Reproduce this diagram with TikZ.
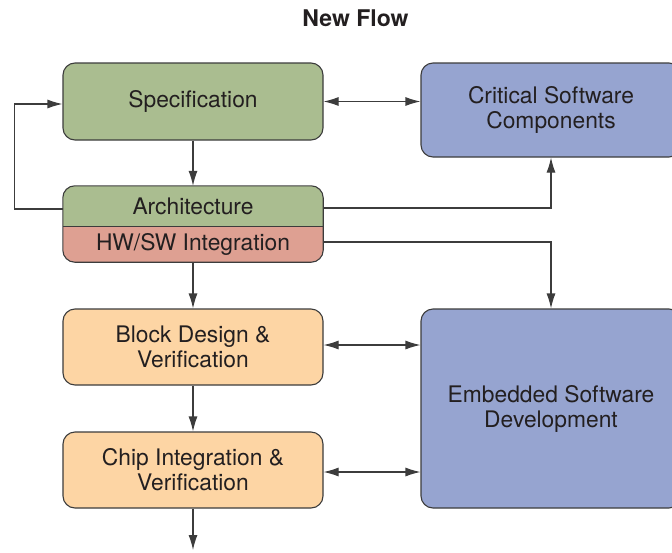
\documentclass[tikz,border=0pt]{standalone}
\usepackage{fontspec}
\setmainfont{TeX Gyre Heros}
\usetikzlibrary{arrows.meta,backgrounds,calc}
\definecolor{specgreen}{RGB}{170,189,144}
\definecolor{hwpink}{RGB}{222,160,146}
\definecolor{peach}{RGB}{253,213,164}
\definecolor{swblue}{RGB}{150,164,208}
\definecolor{edge}{RGB}{60,60,60}
\definecolor{ink}{RGB}{35,31,32}
\tikzset{
  box/.style={draw=edge, line width=1.1pt, rounded corners=12pt, minimum width=260pt,
    align=center, text=ink, font=\fontsize{22.8}{25}\selectfont, inner sep=0pt},
  plain/.style={minimum width=260pt, inner sep=0pt, align=center, text=ink,
    font=\fontsize{22.8}{25}\selectfont},
  arr/.style={draw=edge, line width=1.1pt, -{Latex[length=15pt,width=9pt]}},
  dbl/.style={draw=edge, line width=1.1pt, {Latex[length=15pt,width=9pt]}-{Latex[length=15pt,width=9pt]}}
}
\begin{document}
\begin{tikzpicture}[x=1pt,y=-1pt]
\useasboundingbox (0,0) rectangle (672,552);
\clip (0,0) rectangle (672,552);

% title
\node[font=\bfseries\fontsize{23}{25}\selectfont, text=ink] (title) at (355.5,18) {New Flow};

% left column
\node[box, fill=specgreen, minimum height=77pt] (spec) at (193,101.5) {Specification};
\node[plain, minimum height=40pt] (arch) at (193,206) {Architecture};
\node[plain, minimum height=36pt] (hwsw) at (193,244) {HW/SW Integration};
\node[box, fill=peach, minimum height=76pt] (block) at (193,347) {Block Design \&\\Verification};
\node[box, fill=peach, minimum height=76pt] (chip) at (193,470) {Chip Integration \&\\Verification};

% right column
\node[box, fill=swblue, minimum width=260pt, minimum height=94pt] (crit) at (551,110) {Critical Software\\Components};
\node[box, fill=swblue, minimum width=260pt, minimum height=199pt] (emb) at (551,408.5) {Embedded Software\\Development};

% two-part architecture box
\begin{scope}[on background layer]
  \begin{scope}
    \clip[rounded corners=12pt] (arch.north west) rectangle (hwsw.south east);
    \fill[specgreen] (arch.north west) rectangle (arch.south east);
    \fill[hwpink] (hwsw.north west) rectangle (hwsw.south east);
  \end{scope}
  \draw[edge, line width=1.1pt, rounded corners=12pt] (arch.north west) rectangle (hwsw.south east);
  \draw[edge, line width=1.1pt] (arch.south west) -- (arch.south east);
\end{scope}

% flow connectors
\coordinate (out) at (193,550);
\draw[arr] (spec.south) -- (arch.north);
\draw[arr] (hwsw.south) -- (block.north);
\draw[arr] (block.south) -- (chip.north);
\draw[arr] (chip.south) -- (out);
\draw[arr] ([yshift=-3pt]arch.west) -- ++(-48,0) |- ([yshift=-2.5pt]spec.west);
\draw[dbl] (spec.east) -- (spec.east -| crit.west);
\draw[arr] ([yshift=-2pt]arch.east) -| (crit.south);
\draw[arr] ([yshift=2pt]hwsw.east) -| (emb.north);
\draw[dbl] ([yshift=2pt]block.east) -- ([yshift=2pt]block.east -| emb.west);
\draw[dbl] ([yshift=-2pt]chip.east) -- ([yshift=-2pt]chip.east -| emb.west);
\end{tikzpicture}
\end{document}
